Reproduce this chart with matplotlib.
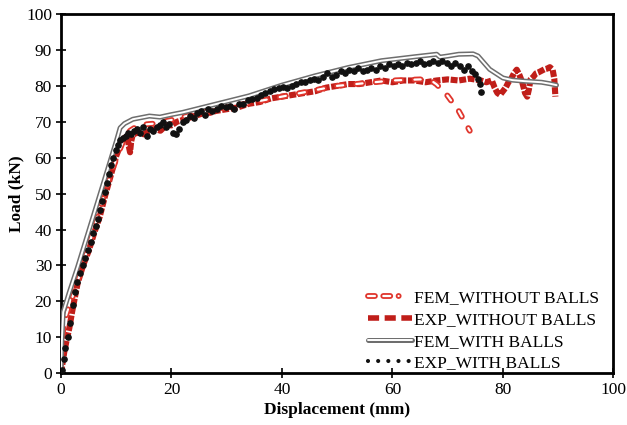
import matplotlib
matplotlib.use("Agg")
import matplotlib.pyplot as plt
from matplotlib.lines import Line2D

plt.rcParams['font.family'] = ['Liberation Serif', 'DejaVu Serif']
plt.rcParams['lines.scale_dashes'] = False

# ---------------- data ----------------
fem_with_x = [0, 0.15, 0.4, 1.5, 3, 5, 6.7, 8.5, 10, 10.7, 11.5, 13, 16, 17.9, 20, 22, 28, 34, 40,
              46, 52, 58, 64, 68, 68.6, 70, 72, 74.6, 75.5, 77.6, 80, 81.7, 84, 87, 88.5, 89.7]
fem_with_y = [0, 9, 17, 22.5, 29.5, 39.5, 48, 57, 64.5, 68.3, 69.5, 70.7, 71.6, 71.3, 72, 72.6, 74.9,
              77.2, 80.2, 82.8, 85.1, 87, 88.1, 88.8, 88, 88.3, 88.8, 88.9, 88.3, 84.6, 82.2, 81.6,
              81.3, 81, 80.6, 80.2]

fem_without_x = [0, 0.2, 0.5, 1.2, 2.5, 4.5, 6.5, 8.5, 10.3, 11.5, 12.5, 14, 15.5, 17, 20, 25, 30,
                 40, 50, 60, 65, 67, 68, 70, 72, 74]
fem_without_y = [0, 8, 14, 17.5, 23, 33, 43, 53, 61, 65.5, 67.5, 69, 69.3, 69.5, 70.5, 72.5, 74,
                 77, 80, 81.5, 81.8, 81.5, 80.4, 77.2, 73, 67.5]

exp_without_x = [0, 0.3, 0.6, 1, 1.5, 2, 2.5, 3, 4, 5, 6, 7, 8, 9, 10, 10.5, 11, 11.5, 12, 12.3,
                 12.5, 12.7, 13, 14, 15, 16, 17, 18, 19, 20, 21, 22, 23, 24, 25, 26, 27, 28, 30,
                 32, 34, 36, 38, 40, 42, 44, 46, 48, 50, 52, 54, 56, 58, 60, 62, 64, 66, 68, 70,
                 72, 74, 76, 77, 78, 78.5, 79, 79.5, 80, 80.5, 81, 81.5, 82, 82.5, 83, 83.5, 84,
                 84.4, 84.7, 85, 85.5, 86, 86.5, 87, 87.5, 88, 88.5, 89, 89.3, 89.5]
exp_without_y = [0, 3, 6, 9, 12.5, 17, 21, 25, 30, 34, 39, 43.5, 49.5, 55, 60.5, 62.5, 64.5, 65.5,
                 66, 63, 61.5, 64.5, 66.5, 67, 66.5, 67.5, 68, 67.5, 69, 69, 70, 70.5, 71, 71.5,
                 72, 72.5, 72.5, 73, 73.5, 74, 75, 75.5, 76.5, 77, 77.5, 78, 78.5, 79.5, 80, 80.5,
                 80.5, 81, 81.5, 81, 81.5, 81.5, 81, 81.5, 81.8, 81.5, 82, 81.5, 81, 81.5, 79.5,
                 78, 77.5, 78.5, 79.5, 81, 82, 83.5, 84.5, 83, 81, 78, 77, 79, 81.8, 82.5, 83.5,
                 83.8, 84.2, 84.6, 84.8, 85.2, 84.5, 82, 77]

exp_with_x = [0.2, 0.5, 0.8, 1.3, 1.7, 2.2, 2.6, 2.9, 3.4, 3.9, 4.4, 4.9, 5.4, 5.8, 6.3, 6.7, 7.1,
              7.4, 7.9, 8.3, 8.7, 9.1, 9.5, 9.9, 10.3, 10.7, 11.2, 11.7, 12.2, 12.7, 13.2, 13.7,
              14.3, 14.9, 15.5, 16.1, 16.7, 17.3, 17.9, 18.5, 19.0, 19.6, 20.2, 20.8, 21.4, 22.0,
              22.6, 23.3, 24.0, 24.6, 25.3, 26.0, 26.7, 27.4, 28.2, 29.0, 29.8, 30.6, 31.4, 32.2,
              33.0, 33.8, 34.6, 35.4, 36.2, 37.0, 37.8, 38.6, 39.4, 40.2, 41.0, 41.8, 42.6, 43.4,
              44.2, 45.0, 45.8, 46.6, 47.4, 48.2, 49.0, 49.8, 50.6, 51.4, 52.2, 53.0, 53.8, 54.6,
              55.4, 56.2, 57.0, 57.8, 58.6, 59.4, 60.2, 61.0, 61.8, 62.6, 63.4, 64.2, 65.0, 65.8,
              66.6, 67.4, 68.2, 69.0, 69.8, 70.6, 71.4, 72.2, 73.0, 73.7, 74.4, 75.0, 75.4, 75.8,
              76.0]
exp_with_y = [1, 4, 7, 10, 14, 19, 22.5, 25.5, 28, 30, 32, 34.4, 36.5, 39, 41, 43, 45.5, 48, 50.5,
              53, 55.5, 58, 60, 62, 63.5, 65, 65.5, 66, 67, 66.5, 67.5, 68, 67, 68.5, 66, 68, 67.5,
              68.5, 69, 69.8, 68.5, 69.5, 67, 66.5, 68, 70, 70.5, 71.6, 71, 72.5, 73, 72, 73.5, 73,
              73.5, 74.5, 74, 74.5, 73.5, 75, 75, 76, 76.3, 76.5, 77.5, 78, 78.5, 79, 79.5, 79.6,
              79.5, 80, 80.5, 81, 81, 81.5, 82, 81.5, 82.5, 83.5, 82.5, 83, 84, 83.5, 84.5, 84, 85,
              84, 84.5, 85, 84.5, 85.5, 85, 86, 85.5, 86, 85.5, 86.5, 86, 86.5, 87, 86, 86.5, 87,
              86.5, 87, 86.5, 85.5, 86.5, 85.5, 84.5, 85.5, 84, 83.2, 82, 80.4, 78.3]

x_ticks = [0, 20, 40, 60, 80, 100]
y_ticks = [0, 10, 20, 30, 40, 50, 60, 70, 80, 90, 100]

# ---------------- styles ----------------
RED_DARK = '#C01E19'
RED = '#E0352C'
GRAY = '#6E6E6E'

fig = plt.figure(figsize=(6.27, 4.25), dpi=100)
ax = fig.add_axes([0.0973, 0.122, 0.881, 0.845])

hollow_dash = (0, (4.5, 9.5))
# EXP without balls: thick red dashed
ax.plot(exp_without_x, exp_without_y, color=RED_DARK, lw=4.4,
        linestyle=(0, (5, 1.2)), zorder=2)
# FEM without balls: hollow red dashes
ax.plot(fem_without_x, fem_without_y, color=RED, lw=4.2, linestyle=hollow_dash,
        dash_capstyle='round', zorder=3)
ax.plot(fem_without_x, fem_without_y, color='white', lw=1.6, linestyle=hollow_dash,
        dash_capstyle='round', zorder=3.1)
# FEM with balls: gray double line
ax.plot(fem_with_x, fem_with_y, color=GRAY, lw=3.6, zorder=4, solid_capstyle='round')
ax.plot(fem_with_x, fem_with_y, color='white', lw=1.4, zorder=4.1, solid_capstyle='round')
# EXP with balls: black dots
ax.plot(exp_with_x, exp_with_y, linestyle='none', marker='o', markersize=3.8,
        color='#111111', zorder=5)

ax.set_xlim(0, 100)
ax.set_ylim(0, 100)
ax.set_xticks(x_ticks)
ax.set_yticks(y_ticks)
ax.tick_params(direction='inout', length=7, width=1.2, labelsize=12.5, colors='black', pad=3)
for s in ax.spines.values():
    s.set_linewidth(2.0)

ax.set_xlabel('Displacement (mm)', fontsize=12.5, fontweight='bold', labelpad=2.5)
ax.set_ylabel('Load (kN)', fontsize=12.5, fontweight='bold', labelpad=1)

# legend handles
leg_fwo_o = Line2D([], [], color=RED, lw=4.2, linestyle=(0, (5, 6, 5, 6, 0.1, 20)),
                   dash_capstyle='round')
leg_fwo_i = Line2D([], [], color='white', lw=1.6, linestyle=(0, (5, 6, 5, 6, 0.1, 20)),
                   dash_capstyle='round')
leg_expwo = Line2D([], [], color=RED_DARK, lw=4.0, linestyle=(0, (8, 4)))
leg_fw_o = Line2D([], [], color=GRAY, lw=3.6, solid_capstyle='round')
leg_fw_i = Line2D([], [], color='white', lw=1.4, solid_capstyle='round')
leg_expw = Line2D([], [], color='#111111', lw=3.0, linestyle=(0, (0.01, 7.3)),
                  dash_capstyle='round')

ax.legend([(leg_fwo_o, leg_fwo_i), leg_expwo, (leg_fw_o, leg_fw_i), leg_expw],
          ['FEM_WITHOUT BALLS', 'EXP_WITHOUT BALLS', 'FEM_WITH BALLS', 'EXP_WITH BALLS'],
          loc='lower left', bbox_to_anchor=(0.533, -0.029), frameon=False,
          fontsize=12.5, handlelength=2.55, handletextpad=0.12, labelspacing=0.32,
          borderpad=0.2)

fig.savefig('out.png', dpi=100)
